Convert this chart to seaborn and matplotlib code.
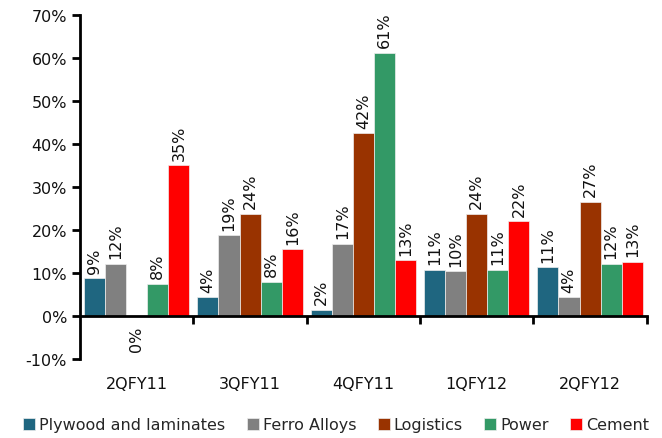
import numpy as np
import pandas as pd
import matplotlib
matplotlib.use("Agg")
import matplotlib.pyplot as plt
import seaborn as sns
from matplotlib.ticker import FuncFormatter, FixedLocator

# data (percent)
quarters = ["2QFY11", "3QFY11", "4QFY11", "1QFY12", "2QFY12"]
sectors = ["Plywood and laminates", "Ferro Alloys", "Logistics", "Power", "Cement"]
plywood = [8.8, 4.3, 1.5, 10.8, 11.3]
ferro = [12.2, 18.8, 16.8, 10.4, 4.3]
logistics = [0.0, 23.8, 42.5, 23.8, 26.6]
power = [7.5, 8.0, 61.2, 10.8, 12.2]
cement = [35.0, 15.5, 13.0, 22.0, 12.6]
colors = ["#1F6680", "#808080", "#993300", "#339966", "#FF0000"]

series = [plywood, ferro, logistics, power, cement]
df = pd.DataFrame({
    "quarter": np.repeat(quarters, len(sectors)),
    "sector": sectors * len(quarters),
    "value": [series[j][i] for i in range(len(quarters)) for j in range(len(sectors))],
})

FS = 11.5

sns.set_style("ticks")
plt.rcParams["font.family"] = ["DejaVu Sans"]

fig = plt.figure(figsize=(6.62, 4.39), dpi=100)
ax = fig.add_axes([0.121, 0.18, 0.856, 0.7836])

sns.barplot(data=df, x="quarter", y="value", hue="sector", hue_order=sectors,
            palette=colors, width=0.93, saturation=1, ax=ax,
            edgecolor="#eeeeee", linewidth=0.5)

# value labels, rotated like the original
for cont in ax.containers:
    for bar in cont:
        v = bar.get_height()
        x = bar.get_x() + bar.get_width() / 2
        if v > 0:
            ax.annotate(f"{v:.0f}%", (x, v), xytext=(0, 4), textcoords="offset points",
                        rotation=90, ha="center", va="bottom", fontsize=FS, color="#111111")
        else:
            ax.annotate(f"{abs(v):.0f}%", (x, v), xytext=(0, -7), textcoords="offset points",
                        rotation=90, ha="center", va="top", fontsize=FS, color="#111111")

ax.set_xlim(-0.5, 4.5)
ax.set_ylim(-10, 70)
ax.set_yticks(range(-10, 71, 10))
ax.yaxis.set_major_formatter(FuncFormatter(lambda v, p: f"{v:.0f}%"))
ax.set_xlabel("")
ax.set_ylabel("")

sns.despine(ax=ax)
ax.spines["bottom"].set_position(("data", 0))
for s in ("left", "bottom"):
    ax.spines[s].set_linewidth(2)
    ax.spines[s].set_color("black")

# category labels sit at the bottom, boundary ticks on the zero line
ax.tick_params(axis="x", which="major", length=0, pad=43, labelsize=FS, labelcolor="#111111")
ax.xaxis.set_minor_locator(FixedLocator([0.5, 1.5, 2.5, 3.5, 4.5]))
ax.tick_params(axis="x", which="minor", length=6, width=2, direction="out", color="black")
ax.tick_params(axis="y", length=6, width=2, labelsize=FS, color="black", labelcolor="#111111")

sns.move_legend(ax, "lower center", bbox_to_anchor=(0.452, -0.255), ncol=5,
                frameon=False, title=None, fontsize=FS, handlelength=0.75,
                handleheight=0.75, handletextpad=0.25, columnspacing=1.35)

fig.savefig("out.png", dpi=100)
